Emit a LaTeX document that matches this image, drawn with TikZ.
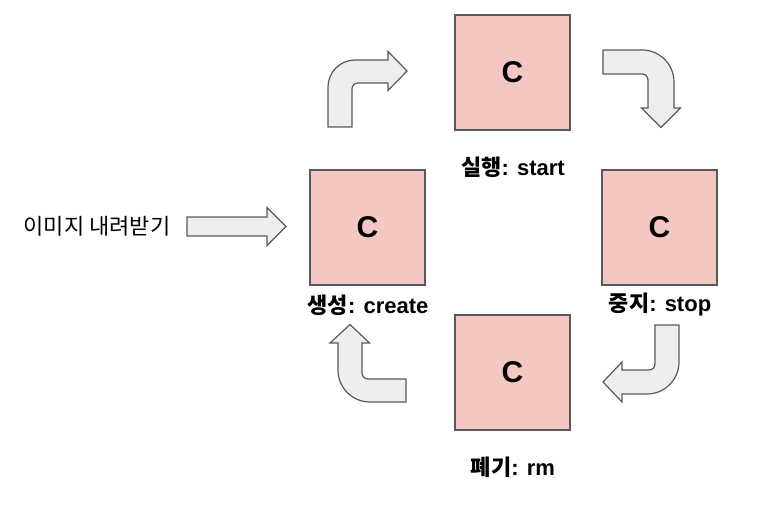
\documentclass[tikz,border=0pt]{standalone}
\usepackage{fontspec}
\setmainfont{Liberation Sans}
\newfontfamily\kr{Noto Sans CJK KR}
\definecolor{boxfill}{HTML}{F4C7C3}
\definecolor{edge}{HTML}{595959}
\definecolor{arrfill}{HTML}{EEEEEE}
\begin{document}
\begin{tikzpicture}[x=1pt,y=-1pt,
  cbox/.style={draw=edge, fill=boxfill, line width=1.5pt, minimum size=115pt, inner sep=0pt, font=\bfseries\fontsize{30}{30}\selectfont},
  lbl/.style={font=\bfseries\fontsize{22}{22}\selectfont, inner sep=0pt},
  bent/.style={draw=edge, fill=arrfill, line width=1.2pt, line join=miter}]
\useasboundingbox (0,0) rectangle (760,518);
% boxes
\node[cbox] (start) at (512.5,72.5) {C};
\node[cbox] (stop) at (659.5,227.5) {C};
\node[cbox] (create) at (367.5,227.5) {C};
\node[cbox] (rm) at (512.5,372.5) {C};
% labels
\node[lbl] (lstart) at (513,167) {{\kr 실행}: start};
\node[lbl] (lstop) at (660,305) {{\kr 중지}: stop};
\node[lbl] (lcreate) at (368,305) {{\kr 생성}: create};
\node[lbl] (lrm) at (513,467) {{\kr 폐기}: rm};
% input text
\node[font=\fontsize{22}{22}\selectfont, inner sep=0pt] (input) at (97,226) {\kr 이미지 내려받기};
% input arrow
\draw[bent] (187,217) -- (267,217) -- (267,207.5) -- (286,226.5) -- (267,245.5) -- (267,236) -- (187,236) -- cycle;
% top-left bent arrow (up then right)
\draw[bent] (328,127) -- (328,87) .. controls (328,72.1) and (340.1,60) .. (355,60)
  -- (388,60) -- (388,51.5) -- (407,71) -- (388,90.5) -- (388,83) -- (358,83)
  .. controls (354.7,83) and (352,85.7) .. (352,89) -- (352,127) -- cycle;
% top-right bent arrow (right then down)
\draw[bent] (603,50) -- (642,50) .. controls (659.7,50) and (674,64.3) .. (674,82)
  -- (674,108) -- (680.5,108) -- (661,127.5) -- (641.5,108) -- (648,108) -- (648,80)
  .. controls (648,76.7) and (645.3,74) .. (642,74) -- (603,74) -- cycle;
% bottom-right bent arrow (down then left)
\draw[bent] (655,325) -- (679,325) -- (679,362) .. controls (679,379.7) and (664.7,394) .. (647,394)
  -- (622,394) -- (622,402) -- (603,382) -- (622,362) -- (622,370) -- (649,370)
  .. controls (652.3,370) and (655,367.3) .. (655,364) -- cycle;
% bottom-left bent arrow (left then up)
\draw[bent] (406,402) -- (370,402) .. controls (352.3,402) and (338,387.7) .. (338,370)
  -- (338,343) -- (330,343) -- (350,324.5) -- (369.5,343) -- (362,343) -- (362,373)
  .. controls (362,376.3) and (364.7,379) .. (368,379) -- (406,379) -- cycle;
\end{tikzpicture}
\end{document}
